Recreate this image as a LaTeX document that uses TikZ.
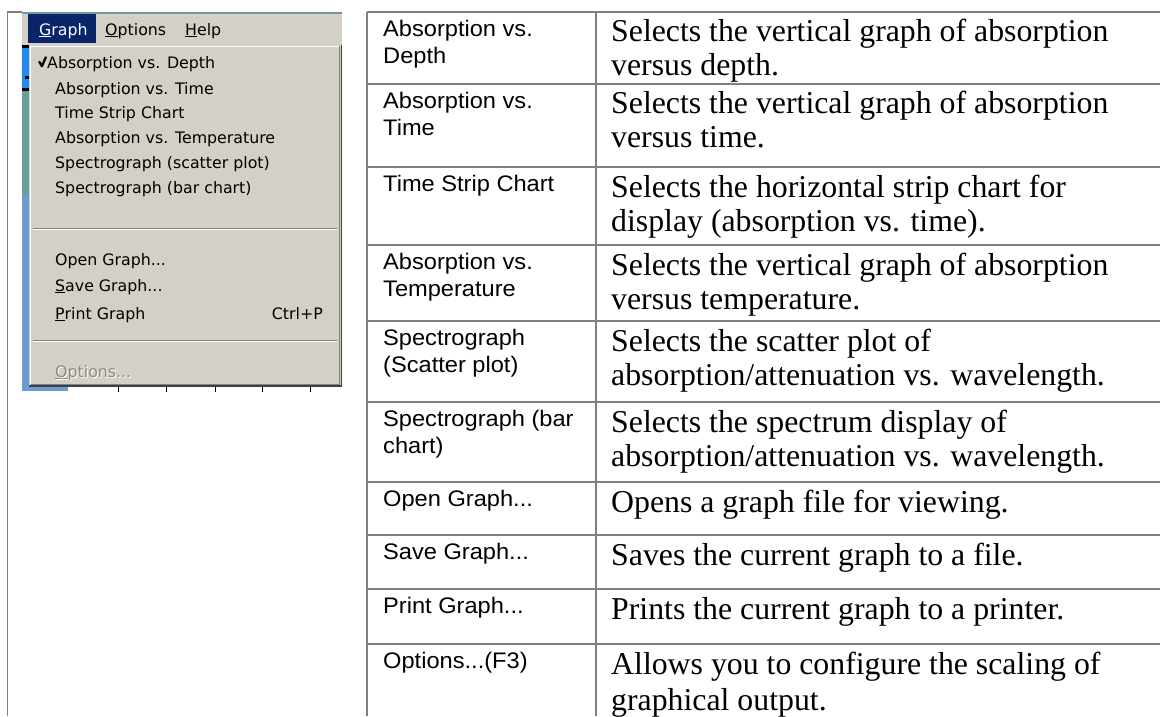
\documentclass[tikz,border=0pt]{standalone}
\usepackage{fontspec}
\newfontfamily\menufont{DejaVu Sans}
\newfontfamily\arialfont[FakeStretch=1.05]{Liberation Sans}
\newfontfamily\timesfont{Liberation Serif}
\definecolor{winGray}{HTML}{D4D0C8}
\definecolor{winNavy}{HTML}{0A246A}
\definecolor{tblLine}{HTML}{808080}
\definecolor{winTeal}{HTML}{6A9E9A}
\definecolor{winBlueBright}{HTML}{1E8CF0}
\definecolor{winBlueSoft}{HTML}{6A9BD3}
\definecolor{shadowDark}{HTML}{404040}
\definecolor{shadowMid}{HTML}{808080}
\definecolor{grayText}{HTML}{8C8A84}
\tikzset{
  tbl/.style={draw=tblLine, line width=1.6pt},
  menuitem/.style={anchor=base west, inner sep=0pt, font=\menufont\fontsize{15.8}{18}\selectfont, text=black},
  colTwo/.style={anchor=base west, inner sep=0pt, font=\arialfont\fontsize{22.5}{27}\selectfont, text=black},
  colThree/.style={anchor=base west, inner sep=0pt, font=\timesfont\fontsize{31.8}{35}\selectfont, text=black},
}
\begin{document}
\begin{tikzpicture}[x=1pt, y=-1pt]
\useasboundingbox (0,0) rectangle (1160,716);
\fill[white] (0,0) rectangle (1160,716);

% outer table lines
\draw[tbl] (7.5,716) -- (7.5,12) -- (22,12);
\draw[tbl] (367,12) -- (1160,12);
\draw[tbl] (367,12) -- (367,716);
\draw[tbl] (596,12) -- (596,716);
\foreach \yy in {84,167,245,321,402,482,535,589,644}
  \draw[tbl] (367,\yy) -- (1160,\yy);

% screenshot: underlying window strips
\fill[winBlueSoft] (22,45) rectangle (29,391);
\fill[winTeal] (22,88) rectangle (29,195);
\fill[winBlueBright] (22,47) rectangle (29,88);
\fill[black] (22,45) rectangle (29,48);
\fill[black] (22,88) rectangle (29,91);
\fill[black] (25,76) rectangle (29,79);
\fill[winBlueSoft] (22,385) rectangle (68,391);
\foreach \xx in {118,166,215,262,310}
  \draw[black, line width=0.9pt] (\xx,386) -- (\xx,392);

% menu bar
\fill[winGray] (22,13) rectangle (342,45);
\draw[winTeal, line width=1.5pt] (22,12.75) -- (342,12.75);
\fill[winNavy] (28,14) rectangle (96,43);
\node[menuitem, text=white] (mGraph) at (39,35) {\underline{G}raph};
\node[menuitem] (mOptions) at (105,35) {\underline{O}ptions};
\node[menuitem] (mHelp) at (185,35) {\underline{H}elp};

% dropdown
\fill[winGray] (29,45) rectangle (341,386);
\draw[white, line width=1pt] (30,384) -- (30,46) -- (339,46);
\draw[shadowMid, line width=1pt] (30.5,384.5) -- (339.5,384.5) -- (339.5,46);
\draw[shadowDark, line width=1.4pt] (29,386) -- (341.3,386) -- (341.3,45);

% checkmark
\draw[black, line width=2.3pt, line cap=round, line join=round] (39.3,61.8) -- (41.9,66.2) -- (45.8,57.3);

\node[menuitem] (iDepth) at (47,68) {Absorption vs. Depth};
\node[menuitem] (iTime) at (55,94) {Absorption vs. Time};
\node[menuitem] (iStrip) at (55,118) {Time Strip Chart};
\node[menuitem] (iTemp) at (55,143) {Absorption vs. Temperature};
\node[menuitem] (iScatter) at (55,168) {Spectrograph (scatter plot)};
\node[menuitem] (iBar) at (55,193) {Spectrograph (bar chart)};

\draw[shadowMid, line width=1pt] (33,228) -- (337,228);
\draw[white, line width=1pt] (33,229) -- (337,229);

\node[menuitem] (iOpen) at (55,265) {Open Graph...};
\node[menuitem] (iSave) at (55,291) {\underline{S}ave Graph...};
\node[menuitem] (iPrint) at (55,319) {\underline{P}rint Graph};
\node[menuitem, anchor=base east] (iCtrl) at (323,319) {Ctrl+P};

\draw[shadowMid, line width=1pt] (33,340) -- (337,340);
\draw[white, line width=1pt] (33,341) -- (337,341);

\node[menuitem, text=white] (iOptShadow) at (56,378) {\underline{O}ptions...};
\node[menuitem, text=grayText] (iOpt) at (55,377) {\underline{O}ptions...};

% table text
\node[colTwo] (a1) at (383,36) {Absorption vs.};
\node[colTwo] (a2) at (383,63.5) {Depth};
\node[colThree] (b1) at (611,41) {Selects the vertical graph of absorption};
\node[colThree] (b2) at (611,75) {versus depth.};

\node[colTwo] (c1) at (383,108) {Absorption vs.};
\node[colTwo] (c2) at (383,135.5) {Time};
\node[colThree] (d1) at (611,113) {Selects the vertical graph of absorption};
\node[colThree] (d2) at (611,147) {versus time.};

\node[colTwo] (e1) at (383,191) {Time Strip Chart};
\node[colThree] (f1) at (611,197) {Selects the horizontal strip chart for};
\node[colThree] (f2) at (611,231) {display (absorption vs. time).};

\node[colTwo] (g1) at (383,269) {Absorption vs.};
\node[colTwo] (g2) at (383,296.5) {Temperature};
\node[colThree] (h1) at (611,275) {Selects the vertical graph of absorption};
\node[colThree] (h2) at (611,309) {versus temperature.};

\node[colTwo] (i1) at (383,345) {Spectrograph};
\node[colTwo] (i2) at (383,372.5) {(Scatter plot)};
\node[colThree] (j1) at (611,351) {Selects the scatter plot of};
\node[colThree] (j2) at (611,385) {absorption/attenuation vs. wavelength.};

\node[colTwo] (k1) at (383,426) {Spectrograph (bar};
\node[colTwo] (k2) at (383,453.5) {chart)};
\node[colThree] (l1) at (611,432) {Selects the spectrum display of};
\node[colThree] (l2) at (611,466) {absorption/attenuation vs. wavelength.};

\node[colTwo] (m1) at (383,506) {Open Graph...};
\node[colThree] (n1) at (611,512) {Opens a graph file for viewing.};

\node[colTwo] (o1) at (383,559) {Save Graph...};
\node[colThree] (p1) at (611,565) {Saves the current graph to a file.};

\node[colTwo] (q1) at (383,613) {Print Graph...};
\node[colThree] (r1) at (611,619) {Prints the current graph to a printer.};

\node[colTwo] (s1) at (383,668) {Options...(F3)};
\node[colThree] (t1) at (611,674) {Allows you to configure the scaling of};
\node[colThree] (t2) at (611,710) {graphical output.};
\end{tikzpicture}
\end{document}
